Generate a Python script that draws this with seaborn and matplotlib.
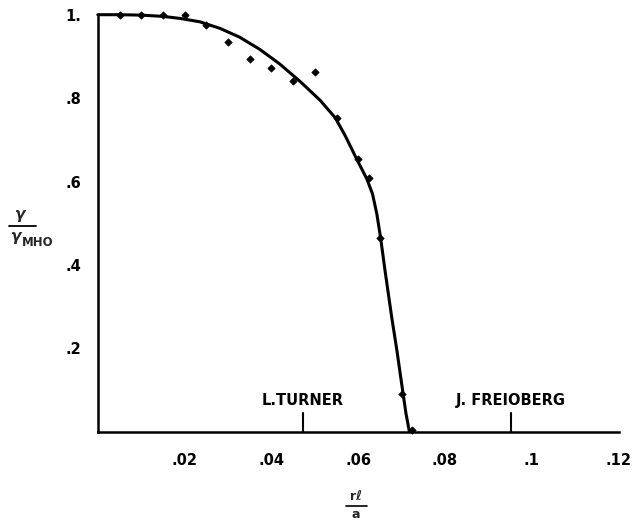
"""
Growth rate ratio versus r*l/a, with the fitted curve and measured points.
"""
import matplotlib
matplotlib.use("Agg")
import matplotlib.pyplot as plt
from matplotlib.lines import Line2D
import seaborn as sns
import pandas as pd

# measured points
point_x = [0.005, 0.01, 0.015, 0.02, 0.025, 0.03, 0.035, 0.04, 0.045, 0.05,
           0.055, 0.06, 0.0625, 0.065, 0.07, 0.0725]
point_y = [1.0, 1.0, 1.0, 1.0, 0.976, 0.935, 0.893, 0.873, 0.840, 0.862,
           0.753, 0.653, 0.608, 0.464, 0.090, 0.004]

# hand drawn curve
curve_x = [0.0, 0.005, 0.01, 0.015, 0.019, 0.0235, 0.0282, 0.0327, 0.0373, 0.0419,
           0.0466, 0.0512, 0.0547, 0.0570, 0.0595, 0.0620, 0.0633, 0.0643, 0.0652,
           0.0662, 0.0677, 0.0689, 0.0700, 0.0710, 0.0718]
curve_y = [1.0, 1.0, 0.999, 0.996, 0.991, 0.983, 0.967, 0.946, 0.917, 0.882,
           0.840, 0.795, 0.753, 0.710, 0.657, 0.606, 0.570, 0.522, 0.462,
           0.385, 0.276, 0.196, 0.116, 0.044, 0.0]

x_ticks = [0.02, 0.04, 0.06, 0.08, 0.10, 0.12]
x_tick_labels = [".02", ".04", ".06", ".08", ".1", ".12"]
y_ticks = [0.2, 0.4, 0.6, 0.8, 1.0]
y_tick_labels = [".2", ".4", ".6", ".8", "1."]

# authors' marks on the x axis
mark_x = [0.0472, 0.0951]
mark_labels = ["L.TURNER", "J. FREIOBERG"]

sns.set_theme(style="white")
plt.rcParams["font.family"] = ["DejaVu Sans"]
plt.rcParams["font.weight"] = "bold"

W, H = 632, 522
fig = plt.figure(figsize=(W / 100, H / 100), dpi=100)
ax = fig.add_axes([97.8 / W, 1 - 431.7 / H, 520.8 / W, 417 / H])

curve = pd.DataFrame({"x": curve_x, "y": curve_y})
pts = pd.DataFrame({"x": point_x, "y": point_y})
sns.lineplot(data=curve, x="x", y="y", sort=False, color="black", lw=2.2, ax=ax,
             clip_on=False)
sns.scatterplot(data=pts, x="x", y="y", color="black", marker="D", s=14,
                edgecolor="black", linewidth=0.5, ax=ax, clip_on=False, zorder=5)

ax.set_xlim(0, 0.12)
ax.set_ylim(0, 1.0)
for side in ["top", "right"]:
    ax.spines[side].set_visible(False)
for side in ["left", "bottom"]:
    ax.spines[side].set_color("black")
    ax.spines[side].set_linewidth(1.8)

ax.set_xticks(x_ticks)
ax.set_xticklabels(x_tick_labels)
ax.set_yticks(y_ticks)
ax.set_yticklabels(y_tick_labels)
ax.tick_params(axis="x", direction="in", length=6, width=1.3, pad=15,
               labelsize=10.5, colors="black")
ax.tick_params(axis="y", direction="in", length=7, width=1.3, pad=12,
               labelsize=10.5, colors="black")
ax.set_xlabel("")
ax.set_ylabel("")

# tall marks with names
for mx, lab in zip(mark_x, mark_labels):
    ax.plot([mx, mx], [0, 0.045], color="black", lw=1.5)
    ax.text(mx, 0.075, lab, ha="center", va="center", fontsize=10.5,
            fontweight="bold", color="black")

# y label as a stacked fraction
fig.text(20 / W, 1 - 214 / H, "γ", ha="center", va="center", fontsize=11,
         fontweight="bold", style="italic")
fig.add_artist(Line2D([9 / W, 36 / W], [1 - 226 / H, 1 - 226 / H],
                      color="black", lw=1.3))
fig.text(16 / W, 1 - 236 / H, "γ", ha="center", va="center", fontsize=11,
         fontweight="bold", style="italic")
fig.text(22 / W, 1 - 243 / H, "MHO", ha="left", va="center", fontsize=8.5,
         fontweight="bold")

# x label as a stacked fraction
fig.text(356 / W, 1 - 497 / H, "rℓ", ha="center", va="center", fontsize=9,
         fontweight="bold")
fig.add_artist(Line2D([346 / W, 367 / W], [1 - 506 / H, 1 - 506 / H],
                      color="black", lw=1.2))
fig.text(356 / W, 1 - 514 / H, "a", ha="center", va="center", fontsize=9,
         fontweight="bold")

fig.savefig("out.png", dpi=100)
plt.close(fig)
